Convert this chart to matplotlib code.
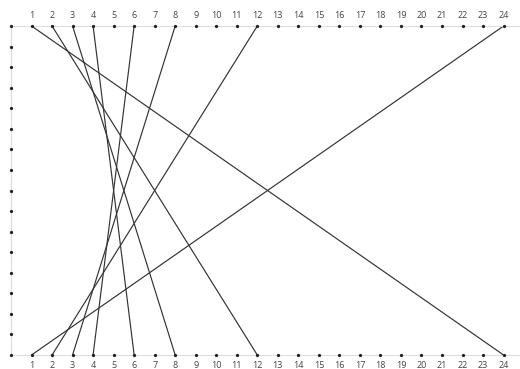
import matplotlib
matplotlib.use("Agg")
import matplotlib.pyplot as plt
import numpy as np

# divisor pairs of 24: top value -> bottom value
top_vals = [1, 2, 3, 4, 6, 8, 12, 24]
bottom_vals = [24, 12, 8, 6, 4, 3, 2, 1]
x_ticks = list(range(1, 25))
y_ticks = list(range(0, 17))

plt.rcParams["font.family"] = ["Open Sans", "DejaVu Sans"]

fig = plt.figure(figsize=(5.2, 3.69), dpi=100)
ax = fig.add_axes([11 / 520, 14 / 369, 509 / 520, 329 / 369])
ax.set_xlim(0, 24.8)
ax.set_ylim(0, 16)

for t, b in zip(top_vals, bottom_vals):
    ax.plot([t, b], [16, 0], color="#333333", lw=0.85, solid_capstyle="round")

# tick dots
ax.scatter(x_ticks, [16] * len(x_ticks), s=1.8, color="#222222", zorder=5, clip_on=False)
ax.scatter(x_ticks, [0] * len(x_ticks), s=1.8, color="#222222", zorder=5, clip_on=False)
ax.scatter([0] * len(y_ticks), y_ticks, s=1.8, color="#222222", zorder=5, clip_on=False)

for spine in ["top", "bottom", "left"]:
    ax.spines[spine].set_color("#dddddd")
    ax.spines[spine].set_linewidth(0.8)
ax.spines["right"].set_visible(False)

ax.set_xticks(x_ticks)
ax.set_xticklabels([str(v) for v in x_ticks])
ax.set_yticks([])
ax.tick_params(axis="x", length=0, pad=4, labelsize=6.5, labelcolor="#444444",
               top=True, labeltop=True, bottom=True, labelbottom=True)

fig.savefig("out.png", dpi=100)
